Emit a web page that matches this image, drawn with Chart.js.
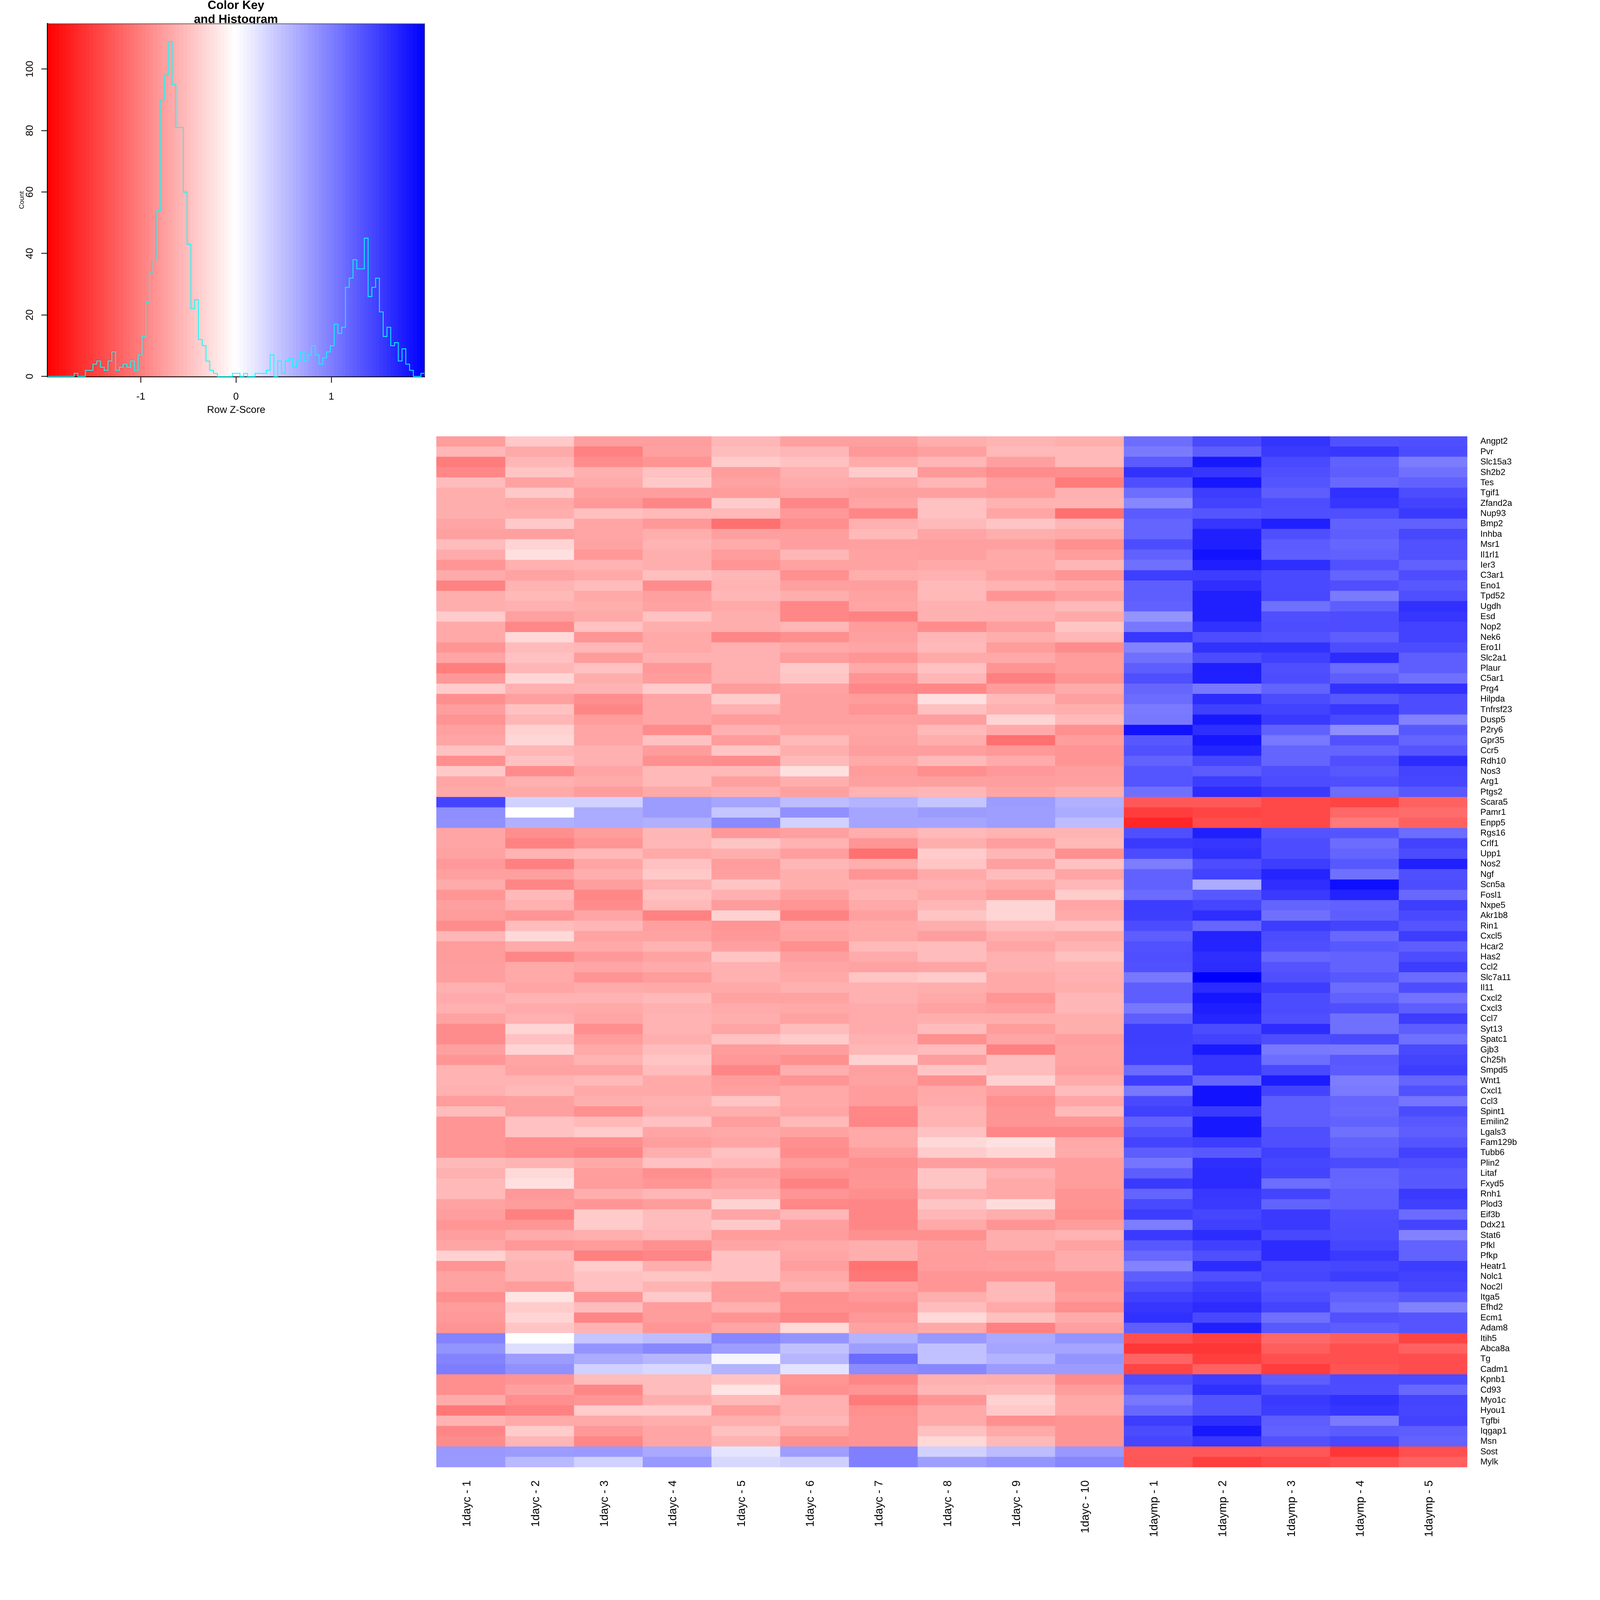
<!DOCTYPE html>
<html><head><meta charset="utf-8">
<style>
html,body{margin:0;padding:0;background:#fff;overflow:hidden}
canvas{position:absolute;left:0;top:0;display:block}
</style>
<script src="https://cdn.jsdelivr.net/npm/chart.js@4/dist/chart.umd.js"></script>
</head><body>
<canvas id="heat"></canvas>
<canvas id="hist"></canvas>
<script>
const samples=['1dayc - 1','1dayc - 2','1dayc - 3','1dayc - 4','1dayc - 5','1dayc - 6','1dayc - 7','1dayc - 8','1dayc - 9','1dayc - 10','1daymp - 1','1daymp - 2','1daymp - 3','1daymp - 4','1daymp - 5'];
const genes=['Angpt2','Pvr','Slc15a3','Sh2b2','Tes','Tgif1','Zfand2a','Nup93','Bmp2','Inhba','Msr1','Il1rl1','Ier3','C3ar1','Eno1','Tpd52','Ugdh','Esd','Nop2','Nek6','Ero1l','Slc2a1','Plaur','C5ar1','Prg4','Hilpda','Tnfrsf23','Dusp5','P2ry6','Gpr35','Ccr5','Rdh10','Nos3','Arg1','Ptgs2','Scara5','Pamr1','Enpp5','Rgs16','Crlf1','Upp1','Nos2','Ngf','Scn5a','Fosl1','Nxpe5','Akr1b8','Rin1','Cxcl5','Hcar2','Has2','Ccl2','Slc7a11','Il11','Cxcl2','Cxcl3','Ccl7','Syt13','Spatc1','Gjb3','Ch25h','Smpd5','Wnt1','Cxcl1','Ccl3','Spint1','Emilin2','Lgals3','Fam129b','Tubb6','Plin2','Litaf','Fxyd5','Rnh1','Plod3','Eif3b','Ddx21','Stat6','Pfkl','Pfkp','Heatr1','Nolc1','Noc2l','Itga5','Efhd2','Ecm1','Adam8','Itih5','Abca8a','Tg','Cadm1','Kpnb1','Cd93','Myo1c','Hyou1','Tgfbi','Iqgap1','Msn','Sost','Mylk'];
const zRows=[
[-.77,-.42,-.75,-.75,-.57,-.74,-.74,-.63,-.59,-.63,1.13,1.41,1.58,1.35,1.37],
[-.57,-.67,-.98,-.74,-.52,-.57,-.80,-.74,-.54,-.54,1.03,1.25,1.53,1.55,1.39],
[-1.02,-.57,-.89,-.83,-.40,-.48,-.65,-.57,-.74,-.54,1.27,1.79,1.41,1.23,1.02],
[-.93,-.45,-.61,-.48,-.77,-.61,-.40,-.80,-.89,-.88,1.59,1.56,1.37,1.25,1.11],
[-.52,-.72,-.65,-.42,-.72,-.65,-.67,-.57,-.75,-1.02,1.37,1.81,1.32,1.17,1.23],
[-.63,-.42,-.75,-.75,-.77,-.70,-.74,-.74,-.77,-.61,1.13,1.51,1.25,1.61,1.38],
[-.63,-.67,-.80,-.94,-.40,-.93,-.70,-.48,-.59,-.59,.93,1.47,1.38,1.56,1.45],
[-.63,-.64,-.50,-.54,-.54,-.80,-.94,-.48,-.70,-1.11,1.27,1.32,1.37,1.37,1.53],
[-.70,-.42,-.70,-.80,-1.11,-.88,-.61,-.54,-.45,-.57,1.20,1.56,1.73,1.23,1.23],
[-.74,-.74,-.70,-.63,-.74,-.75,-.54,-.70,-.63,-.67,1.20,1.73,1.37,1.25,1.42],
[-.52,-.33,-.72,-.59,-.65,-.75,-.74,-.74,-.74,-.86,1.38,1.73,1.27,1.19,1.35],
[-.65,-.25,-.80,-.63,-.77,-.57,-.72,-.74,-.67,-.77,1.23,1.84,1.25,1.23,1.35],
[-.82,-.61,-.59,-.63,-.82,-.72,-.72,-.67,-.67,-.57,1.11,1.75,1.62,1.35,1.23],
[-.65,-.72,-.67,-.50,-.57,-.86,-.63,-.61,-.72,-.82,1.50,1.51,1.41,1.20,1.38],
[-.97,-.59,-.52,-.89,-.59,-.74,-.75,-.54,-.59,-.65,1.25,1.62,1.41,1.37,1.30],
[-.63,-.54,-.67,-.74,-.57,-.63,-.72,-.54,-.83,-.74,1.25,1.73,1.42,1.03,1.37],
[-.63,-.61,-.63,-.72,-.67,-.93,-.70,-.61,-.61,-.54,1.23,1.73,1.11,1.25,1.61],
[-.40,-.74,-.67,-.48,-.63,-.93,-.97,-.61,-.61,-.67,.83,1.73,1.37,1.38,1.56],
[-.67,-.93,-.48,-.63,-.63,-.57,-.77,-.89,-.75,-.45,1.05,1.59,1.38,1.38,1.47],
[-.67,-.30,-.82,-.67,-.94,-.88,-.74,-.57,-.63,-.57,1.55,1.38,1.35,1.25,1.47],
[-.82,-.53,-.57,-.67,-.61,-.67,-.70,-.54,-.77,-.89,.96,1.59,1.59,1.38,1.39],
[-.70,-.48,-.77,-.61,-.61,-.77,-.82,-.67,-.67,-.77,1.11,1.39,1.48,1.64,1.25],
[-1.00,-.57,-.48,-.80,-.61,-.42,-.67,-.48,-.83,-.77,1.25,1.75,1.37,1.14,1.25],
[-.80,-.32,-.63,-.77,-.61,-.45,-.83,-.57,-.99,-.83,1.37,1.73,1.38,1.25,1.11],
[-.40,-.61,-.59,-.40,-.77,-.72,-.93,-.93,-.77,-.65,1.19,1.05,1.22,1.59,1.61],
[-.88,-.74,-.88,-.70,-.40,-.74,-.77,-.25,-.54,-.74,1.14,1.64,1.39,1.30,1.38],
[-.75,-.48,-.94,-.70,-.61,-.74,-.83,-.49,-.61,-.63,1.03,1.48,1.47,1.55,1.38],
[-.83,-.57,-.77,-.70,-.77,-.74,-.74,-.75,-.33,-.54,1.05,1.79,1.53,1.41,.97],
[-.74,-.36,-.70,-.89,-.61,-.70,-.70,-.54,-.67,-.86,1.84,1.62,1.23,.88,1.30],
[-.70,-.32,-.70,-.48,-.77,-.54,-.72,-.63,-1.11,-.77,1.30,1.81,1.05,1.35,1.20],
[-.48,-.57,-.61,-.77,-.45,-.63,-.75,-.75,-.80,-.83,1.35,1.70,1.20,1.20,1.32],
[-.88,-.48,-.61,-.86,-.89,-.54,-.67,-.54,-.65,-.83,1.22,1.44,1.20,1.37,1.64],
[-.42,-.89,-.70,-.54,-.54,-.24,-.77,-.88,-.80,-.75,1.32,1.27,1.37,1.30,1.45],
[-.70,-.61,-.65,-.54,-.74,-.63,-.74,-.74,-.75,-.74,1.32,1.51,1.38,1.37,1.44],
[-.67,-.67,-.77,-.67,-.63,-.74,-.59,-.57,-.70,-.63,1.11,1.64,1.53,1.14,1.30],
[1.45,.36,.36,.77,.70,.52,.59,.45,.77,.61,-1.30,-1.30,-1.42,-1.45,-1.23],
[.88,0,.65,.77,.45,.86,.70,.77,.75,.65,-1.51,-1.45,-1.41,-1.17,-1.14],
[.86,.61,.65,.61,.91,.36,.70,.70,.75,.52,-1.68,-1.39,-1.42,-1.03,-1.23],
[-.70,-.88,-.77,-.57,-.80,-.74,-.63,-.54,-.59,-.59,1.37,1.73,1.33,1.32,1.14],
[-.70,-.97,-.82,-.57,-.45,-.59,-.82,-.63,-.75,-.54,1.53,1.56,1.38,1.14,1.47],
[-.72,-.59,-.54,-.67,-.63,-.75,-1.11,-.40,-.57,-.86,1.39,1.61,1.38,1.20,1.39],
[-.80,-.99,-.70,-.48,-.77,-.57,-.63,-.45,-.74,-.48,1.01,1.38,1.51,1.30,1.73],
[-.74,-.74,-.63,-.42,-.74,-.63,-.83,-.67,-.52,-.70,1.23,1.47,1.69,1.11,1.37],
[-.65,-.94,-.75,-.61,-.45,-.63,-.63,-.61,-.67,-.57,1.23,.65,1.62,1.86,1.38],
[-.82,-.54,-.93,-.49,-.61,-.74,-.59,-.67,-.77,-.40,1.15,1.30,1.53,1.71,1.17],
[-.74,-.61,-.89,-.54,-.77,-.82,-.67,-.57,-.33,-.70,1.51,1.44,1.20,1.23,1.50],
[-.77,-.82,-.70,-.97,-.36,-.97,-.74,-.45,-.33,-.65,1.50,1.62,1.11,1.25,1.41],
[-.89,-.52,-.57,-.74,-.82,-.70,-.67,-.63,-.52,-.48,1.39,1.19,1.51,1.45,1.32],
[-.57,-.30,-.72,-.72,-.80,-.72,-.67,-.75,-.63,-.67,1.25,1.71,1.39,1.17,1.51],
[-.77,-.65,-.67,-.59,-.74,-.86,-.54,-.52,-.70,-.59,1.35,1.70,1.37,1.30,1.25],
[-.77,-.94,-.80,-.72,-.45,-.75,-.65,-.52,-.61,-.49,1.37,1.62,1.19,1.22,1.38],
[-.75,-.67,-.70,-.65,-.61,-.70,-.72,-.70,-.61,-.59,1.35,1.64,1.33,1.22,1.51],
[-.75,-.67,-.83,-.77,-.61,-.67,-.45,-.40,-.67,-.61,1.05,1.98,1.37,1.30,1.15],
[-.61,-.70,-.65,-.67,-.67,-.61,-.61,-.63,-.67,-.63,1.25,1.65,1.51,1.14,1.38],
[-.65,-.59,-.59,-.54,-.72,-.72,-.61,-.67,-.82,-.57,1.25,1.82,1.39,1.23,1.09],
[-.61,-.65,-.67,-.61,-.65,-.67,-.65,-.72,-.75,-.57,1.05,1.75,1.39,1.37,1.25],
[-.72,-.61,-.70,-.59,-.63,-.72,-.65,-.63,-.63,-.63,1.25,1.69,1.37,1.11,1.51],
[-.89,-.33,-.88,-.59,-.70,-.52,-.65,-.52,-.77,-.63,1.50,1.39,1.64,1.11,1.25],
[-.89,-.48,-.77,-.63,-.48,-.40,-.61,-.86,-.70,-.75,1.50,1.47,1.38,1.41,1.11],
[-.74,-.33,-.67,-.52,-.77,-.75,-.57,-.52,-.99,-.72,1.48,1.78,1.05,1.03,1.41],
[-.82,-.70,-.59,-.45,-.80,-.86,-.36,-.75,-.52,-.72,1.48,1.56,1.13,1.30,1.45],
[-.59,-.72,-.72,-.52,-.94,-.63,-.74,-.45,-.52,-.74,1.15,1.56,1.41,1.27,1.51],
[-.59,-.59,-.54,-.67,-.77,-.82,-.72,-.86,-.36,-.65,1.51,1.20,1.76,1.01,1.20],
[-.61,-.54,-.67,-.67,-.74,-.67,-.77,-.67,-.75,-.52,1.05,1.84,1.45,1.03,1.35],
[-.77,-.74,-.63,-.61,-.45,-.67,-.77,-.65,-.86,-.70,1.41,1.84,1.25,1.19,1.07],
[-.52,-.74,-.86,-.63,-.63,-.70,-.93,-.59,-.83,-.54,1.48,1.53,1.25,1.17,1.39],
[-.82,-.48,-.54,-.48,-.75,-.54,-.94,-.59,-.83,-.82,1.23,1.79,1.25,1.22,1.30],
[-.82,-.48,-.40,-.70,-.67,-.72,-.67,-.48,-.93,-.93,1.35,1.79,1.37,1.11,1.25],
[-.82,-.88,-.88,-.75,-.70,-.86,-.67,-.30,-.24,-.67,1.45,1.51,1.37,1.22,1.32],
[-.82,-.88,-.94,-.63,-.48,-.89,-.77,-.40,-.32,-.65,1.25,1.30,1.48,1.25,1.47],
[-.54,-.59,-.67,-.48,-.54,-.77,-.86,-.75,-.75,-.77,1.07,1.62,1.44,1.39,1.37],
[-.61,-.30,-.77,-.88,-.75,-.86,-.83,-.45,-.61,-.77,1.25,1.65,1.45,1.20,1.30],
[-.54,-.24,-.77,-.82,-.70,-.97,-.82,-.45,-.67,-.77,1.53,1.65,1.13,1.19,1.30],
[-.54,-.80,-.63,-.57,-.61,-.82,-.88,-.61,-.67,-.83,1.20,1.55,1.45,1.25,1.53],
[-.72,-.77,-.82,-.77,-.36,-.93,-.94,-.45,-.27,-.83,1.41,1.53,1.22,1.25,1.48],
[-.75,-.99,-.40,-.52,-.70,-.57,-.94,-.57,-.63,-.88,1.51,1.44,1.53,1.37,1.15],
[-.82,-.82,-.40,-.52,-.42,-.75,-.94,-.67,-.83,-.77,1.01,1.48,1.53,1.38,1.45],
[-.75,-.65,-.63,-.57,-.77,-.77,-.86,-.86,-.63,-.59,1.53,1.64,1.42,1.39,.97],
[-.70,-.80,-.77,-.86,-.70,-.67,-.63,-.75,-.63,-.72,1.30,1.48,1.64,1.44,1.22],
[-.36,-.54,-.99,-.94,-.48,-.70,-.63,-.77,-.77,-.65,1.17,1.37,1.64,1.53,1.22],
[-.83,-.59,-.40,-.63,-.48,-.75,-1.09,-.77,-.74,-.65,.96,1.64,1.42,1.44,1.51],
[-.72,-.59,-.48,-.45,-.48,-.67,-1.05,-.82,-.82,-.82,1.25,1.37,1.44,1.51,1.47],
[-.72,-.77,-.48,-.59,-.77,-.61,-.74,-.82,-.54,-.82,1.37,1.50,1.32,1.32,1.44],
[-.88,-.21,-.83,-.42,-.77,-.86,-.80,-.63,-.54,-.77,1.48,1.56,1.37,1.23,1.30],
[-.77,-.40,-.52,-.77,-.61,-.86,-.86,-.52,-.67,-.88,1.56,1.64,1.45,1.15,.97],
[-.80,-.33,-.94,-.77,-.83,-.94,-.80,-.30,-.49,-.65,1.61,1.42,1.11,1.35,1.32],
[-.83,-.45,-.59,-.82,-.70,-.30,-.72,-.67,-.99,-.74,1.25,1.73,1.30,1.25,1.32],
[.96,0,.45,.52,.93,.83,.59,.80,.67,.83,-1.37,-1.48,-1.17,-1.25,-1.45],
[.83,.26,.83,.93,.75,.48,.75,.48,.70,.70,-1.55,-1.56,-1.25,-1.37,-1.23],
[.96,.77,.65,.57,.08,.57,1.15,.48,.59,.83,-1.20,-1.50,-1.37,-1.37,-1.39],
[1.01,.86,.36,.30,.59,.22,.89,.93,.77,.77,-1.45,-1.23,-1.51,-1.33,-1.39],
[-.88,-.83,-.52,-.52,-.45,-.82,-.94,-.61,-.63,-.89,1.38,1.51,1.25,1.39,1.39],
[-.88,-.74,-.94,-.52,-.21,-.86,-.82,-.57,-.54,-.77,1.25,1.61,1.39,1.38,1.17],
[-.65,-.88,-.82,-.63,-.54,-.61,-1.03,-.82,-.36,-.67,1.05,1.33,1.53,1.61,1.45],
[-1.05,-.97,-.40,-.40,-.77,-.61,-.86,-.67,-.42,-.67,1.17,1.33,1.51,1.56,1.44],
[-.59,-.67,-.67,-.63,-.63,-.57,-.83,-.67,-.86,-.83,1.51,1.62,1.25,1.03,1.47],
[-.94,-.40,-.80,-.70,-.49,-.72,-.83,-.49,-.67,-.83,1.39,1.79,1.23,1.27,1.25],
[-.89,-.57,-.93,-.70,-.59,-.86,-.83,-.30,-.54,-.83,1.44,1.56,1.35,1.42,1.22],
[.80,.77,.79,.67,.21,.75,.99,.36,.52,.80,-1.30,-1.30,-1.31,-1.56,-1.37],
[.79,.54,.36,.80,.30,.37,.99,.75,.83,.94,-1.31,-1.50,-1.42,-1.37,-1.23]
];
const histCounts=[0,0,0,0,0,0,0,1,0,0,2,2,4,5,3,2,5,8,2,3,4,3,5,2,7,13,24,34,38,54,90,98,109,95,81,81,60,43,22,25,12,10,5,2,1,0,0,0,0,1,1,0,1,0,0,1,1,1,2,7,0,5,1,5,6,3,5,8,5,7,10,7,4,6,8,10,17,14,16,29,32,38,35,35,45,26,29,32,21,13,16,10,11,5,9,4,2,0,0,1];
const zMin=-1.977, zMax=1.98, countMax=114.75;
const zTicksStep=1, countTicksStep=20;
const FONT='"Liberation Sans", Arial, sans-serif';

/* the window may be smaller than the 4800 design size, so every length is scaled */
const W=Math.min(window.innerWidth,window.innerHeight)||4800;
const S=W/4800, px=v=>v*S;

const preciseText={id:'preciseText',beforeDraw(ch){ch.ctx.textRendering='geometricPrecision';}};

function zColor(z){
  const t=Math.min(1,Math.abs(z)/1.98), v=Math.round(255*(1-t));
  return z<0?`rgb(255,${v},${v})`:`rgb(${v},${v},255)`;
}
function sizeCanvas(id,w,h){
  const c=document.getElementById(id);
  c.width=Math.round(w);c.height=Math.round(h);
  c.style.width=c.width+'px';c.style.height=c.height+'px';
  return c;
}

/* heat map: one floating bar series per sample column */
const heatCanvas=sizeCanvas('heat',W,W);
const heatSets=samples.map((s,c)=>({
  label:s, xAxisID:'xv', yAxisID:'y',
  data:genes.map((g,r)=>({x:[c,c+1],y:g,z:zRows[r][c]})),
  backgroundColor:ctx=>ctx.raw?zColor(ctx.raw.z):'#fff',
  borderWidth:0, inflateAmount:.5, barPercentage:1, categoryPercentage:1, grouped:false
}));
new Chart(heatCanvas,{
  type:'bar',
  data:{labels:genes,datasets:heatSets},
  options:{
    indexAxis:'y',responsive:false,animation:false,events:[],devicePixelRatio:1,
    layout:{padding:{left:px(1309),top:px(1309),right:0,bottom:0}},
    plugins:{legend:{display:false},tooltip:{enabled:false},title:{display:false}},
    scales:{
      xv:{type:'linear',min:0,max:samples.length,display:false,position:'bottom'},
      x:{type:'category',labels:samples,position:'bottom',offset:true,
        grid:{display:false,drawTicks:false,offset:true},border:{display:false},
        afterFit:s=>{s.height=W-px(4402)},
        ticks:{autoSkip:false,minRotation:90,maxRotation:90,padding:px(39),labelOffset:px(-11),color:'#000',font:{family:FONT,size:px(34)}}},
      y:{type:'category',position:'right',offset:true,
        grid:{display:false,drawTicks:false},border:{display:false},
        afterFit:s=>{s.width=W-px(4402)},
        ticks:{autoSkip:false,padding:px(39),color:'#000',font:{family:FONT,size:px(26)}}}
    }
  },
  plugins:[preciseText]
});

/* colour key and histogram: the canvas is twice as wide as the centre of the key so the title sits over z = 0 */
const histCanvas=sizeCanvas('hist',px(1416),px(1300));
const keyBins=histCounts.length, binW=(zMax-zMin)/keyBins;
const keyBars=histCounts.map((_,i)=>({x:zMin+(i+.5)*binW,y:[0,countMax]}));
const histLine=histCounts.map((n,i)=>({x:zMin+i*binW,y:n}));
histLine.push({x:zMax,y:histCounts[keyBins-1]});
const boxEdges={id:'boxEdges',afterDatasetsDraw(ch){
  const a=ch.chartArea,c=ch.ctx;c.save();c.strokeStyle='#555';c.lineWidth=px(2);
  c.beginPath();c.moveTo(a.left,a.top);c.lineTo(a.right,a.top);c.lineTo(a.right,a.bottom);c.stroke();c.restore();
}};
new Chart(histCanvas,{
  type:'bar',
  data:{datasets:[
    {type:'line',label:'Count',data:histLine,borderColor:'#00ffff',borderWidth:px(2.4),pointRadius:0,stepped:true,tension:0,fill:false,order:0,clip:false,borderJoinStyle:'miter'},
    {type:'bar',label:'Key',data:keyBars,backgroundColor:ctx=>ctx.raw?zColor(ctx.raw.x):'#fff',borderWidth:0,inflateAmount:.5,barPercentage:1,categoryPercentage:1,order:1}
  ]},
  options:{
    responsive:false,animation:false,events:[],devicePixelRatio:1,
    layout:{padding:0},
    plugins:{legend:{display:false},tooltip:{enabled:false},
      title:{display:true,text:['Color Key','and Histogram'],color:'#000',
        font:{family:FONT,size:px(36),weight:'bold',lineHeight:1.2},padding:{top:px(-5),bottom:px(-10.1)}}},
    scales:{
      x:{type:'linear',min:zMin,max:zMax,offset:false,position:'bottom',
        afterFit:s=>{s.height=histCanvas.height-px(1129.3)},
        border:{display:true,color:'#000',width:px(4.4)},
        grid:{offset:false,drawOnChartArea:false,drawTicks:true,tickLength:px(19),tickColor:'#000',tickWidth:px(2.4)},
        ticks:{stepSize:zTicksStep,includeBounds:false,padding:px(24),color:'#000',font:{family:FONT,size:px(30)},maxRotation:0,
          callback:v=>String(Math.round(v))},
        title:{display:true,text:'Row Z-Score',color:'#000',font:{family:FONT,size:px(30)},padding:{top:0,bottom:px(51)}}},
      y:{type:'linear',min:0,max:countMax,position:'left',
        afterFit:s=>{s.width=px(143)},
        border:{display:true,color:'#000',width:px(4.4)},
        grid:{drawOnChartArea:false,drawTicks:true,tickLength:px(19),tickColor:'#000',tickWidth:px(2.4)},
        ticks:{stepSize:countTicksStep,includeBounds:false,padding:px(9),minRotation:90,maxRotation:90,crossAlign:'center',color:'#000',font:{family:FONT,size:px(30)}},
        title:{display:true,text:'Count',color:'#000',font:{family:FONT,size:px(20)},padding:{top:px(53.7),bottom:0}}},
      yRight:{type:'linear',min:0,max:countMax,position:'right',
        afterFit:s=>{s.width=histCanvas.width-px(1274)},
        border:{display:false},grid:{display:false,drawTicks:false},ticks:{display:false}}
    }
  },
  plugins:[boxEdges,preciseText]
});
</script>
</body></html>
